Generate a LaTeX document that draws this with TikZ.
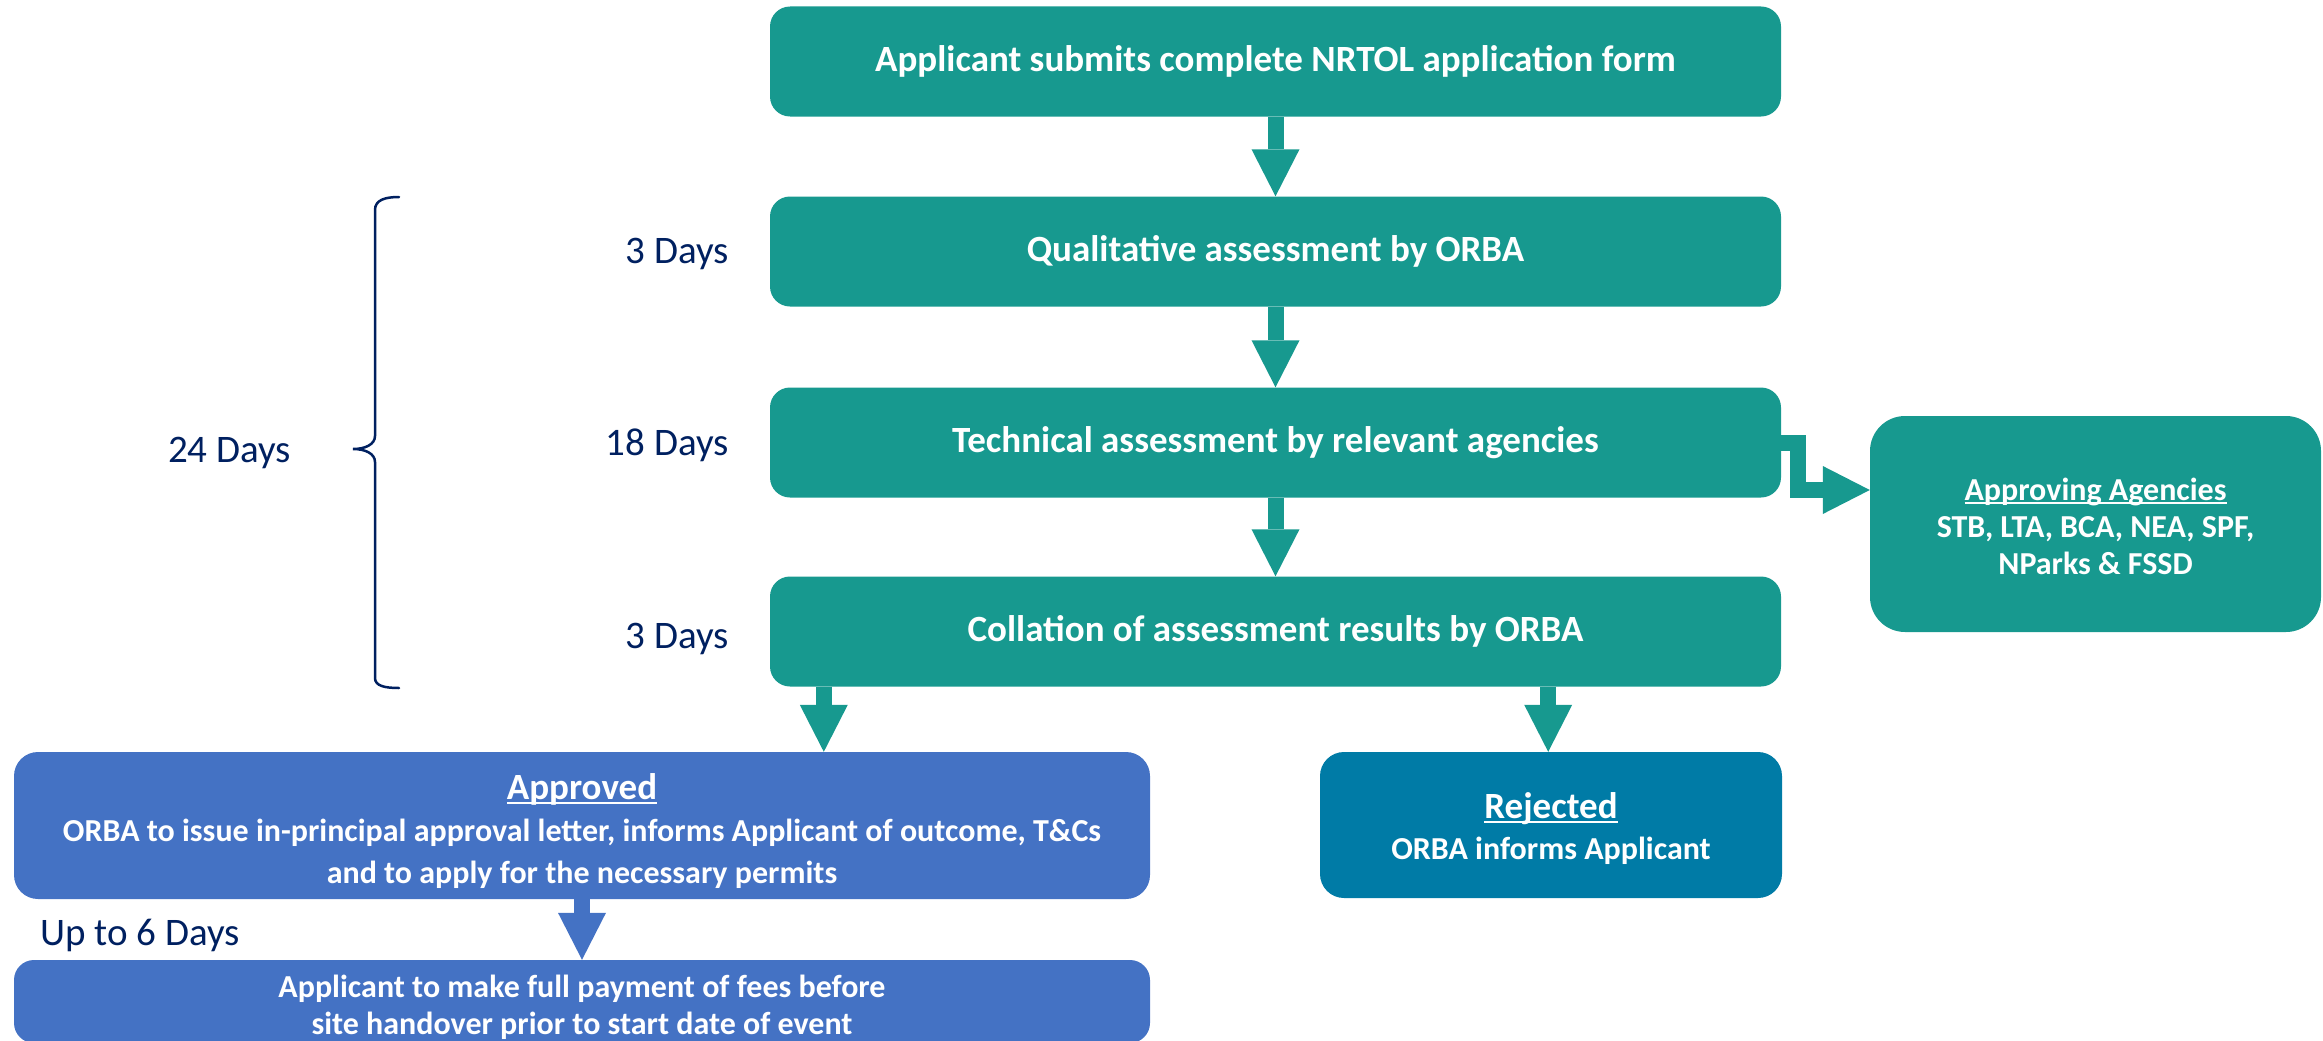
\documentclass[tikz,border=0pt]{standalone}
\usepackage{fontspec}
\setmainfont{Carlito}
\usetikzlibrary{arrows.meta,calc}
\definecolor{tealbox}{HTML}{17998F}
\definecolor{bluebox}{HTML}{4472C4}
\definecolor{rejbox}{HTML}{007BA6}
\definecolor{navytext}{HTML}{002060}
\newcommand\myul[1]{\setbox0\hbox{#1}\rlap{\rule[-4pt]{\wd0}{2pt}}\box0}
\begin{document}
\begin{tikzpicture}[x=1pt,y=-1pt,
  mainbox/.style={rounded corners=20pt, fill=tealbox, text=white, inner sep=0pt,
    align=center, minimum width=1011pt, minimum height=110pt,
    font=\fontsize{37}{44}\selectfont\bfseries},
  resbox/.style={rounded corners=24pt, inner sep=0pt},
  restext/.style={inner sep=0pt, text=white, align=center,
    font=\fontsize{32}{42}\selectfont\bfseries},
  lbl/.style={text=navytext, inner sep=0pt, font=\fontsize{39}{46}\selectfont},
  arr/.style={draw=#1, line width=16pt, line join=miter,
    -{Triangle[length=47pt,width=48pt,line width=0pt]}},
  arr/.default=tealbox]
\useasboundingbox (0,0) rectangle (2323,1041);

% main column
\node[mainbox] (submit) at (1275.5,61.5) {Applicant submits complete NRTOL application form};
\node[mainbox] (qual) at (1275.5,251.5) {Qualitative assessment by ORBA};
\node[mainbox] (tech) at (1275.5,442.5) {Technical assessment by relevant agencies};
\node[mainbox] (coll) at (1275.5,631.5) {Collation of assessment results by ORBA};

% agencies
\node[resbox, fill=tealbox, rounded corners=35pt, minimum width=451pt, minimum height=216pt] (agency) at (2095.5,524) {};
\node[restext, font=\fontsize{32}{37}\selectfont\bfseries] (agencyt) at ($(agency.center)+(0,2)$)
  {\myul{Approving Agencies}\\STB, LTA, BCA, NEA, SPF,\\NParks \& FSSD};

% outcomes
\node[resbox, fill=bluebox, minimum width=1136pt, minimum height=147pt] (appr) at (582,825.5) {};
\node[restext] (apprt) at ($(appr.center)+(0,6)$)
  {{\fontsize{37}{42}\selectfont\myul{Approved}}\\
   ORBA to issue in-principal approval letter, informs Applicant of outcome, T\&Cs\\
   and to apply for the necessary permits};
\node[resbox, fill=rejbox, minimum width=462pt, minimum height=146pt] (rej) at (1551,825) {};
\node[restext, font=\fontsize{32}{41}\selectfont\bfseries] (rejt) at ($(rej.center)+(0,4)$)
  {{\fontsize{37}{41}\selectfont\myul{Rejected}}\\ORBA informs Applicant};
\node[resbox, fill=bluebox, rounded corners=20pt, minimum width=1136pt, minimum height=83pt] (pay) at (582,1001.5) {};
\node[restext, font=\fontsize{32}{37}\selectfont\bfseries] (payt) at ($(pay.center)+(0,6)$)
  {Applicant to make full payment of fees before\\site handover prior to start date of event};

% connectors
\draw[arr] (submit) -- (qual);
\draw[arr] (qual) -- (tech);
\draw[arr] (tech) -- (coll);
\coordinate (tap) at ($(agency.west)+(0,-34)$);
\draw[arr] (tech.east) -- ++(17,0) |- (tap);
\coordinate (ca) at ($(coll.south west)+(54,0)$);
\coordinate (cr) at ($(coll.south east)+(-233,0)$);
\draw[arr] (ca) -- (ca |- appr.north);
\draw[arr] (cr) -- (cr |- rej.north);
\draw[arr=bluebox] (appr) -- (pay);

% labels
\node[lbl, anchor=base east] (d1) at (729,263) {3 Days};
\node[lbl, anchor=base east] (d2) at (729,455) {18 Days};
\node[lbl, anchor=base east] (d3) at (729,648) {3 Days};
\node[lbl, anchor=base west] (d24) at (168,462) {24 Days};
\node[lbl, anchor=base west] (d6) at (40,945) {Up to 6 Days};

% brace
\draw[navytext, line width=2.5pt, line cap=round]
  (399,197) .. controls (385,197) and (375,200) .. (375,210) -- (375,436)
  .. controls (375,444) and (366,449) .. (353,449)
  .. controls (366,449) and (375,454) .. (375,462) -- (375,678)
  .. controls (375,686) and (385,688) .. (399,688);
\end{tikzpicture}
\end{document}
